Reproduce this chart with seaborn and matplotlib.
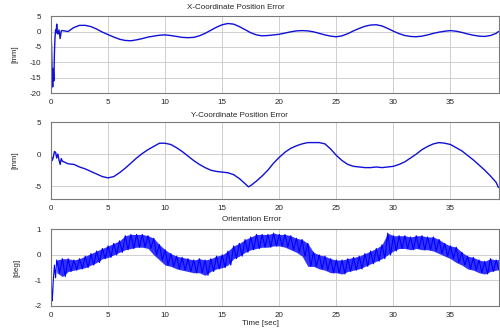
import numpy as np
import pandas as pd
import matplotlib
matplotlib.use("Agg")
import matplotlib.pyplot as plt
import seaborn as sns

# ---- X-coordinate position error [mm] ----
x_time = [0.0, 0.05, 0.1, 0.15, 0.2, 0.25, 0.3, 0.35, 0.4, 0.45, 0.5, 0.55, 0.6, 0.7, 0.8, 0.9, 1.0,
          1.5, 2.0, 2.5, 3.0, 3.5, 4.0, 4.5, 5.0, 5.5, 6.0, 6.5, 7.0, 7.5, 8.0, 8.5, 9.0, 9.5, 10.0,
          10.5, 11.0, 11.5, 12.0, 12.5, 13.0, 13.5, 14.0, 14.5, 15.0, 15.5, 16.0, 16.5, 17.0, 17.5,
          18.0, 18.5, 19.0, 19.5, 20.0, 20.5, 21.0, 21.5, 22.0, 22.5, 23.0, 23.5, 24.0, 24.5, 25.0,
          25.5, 26.0, 26.5, 27.0, 27.5, 28.0, 28.5, 29.0, 29.5, 30.0, 30.5, 31.0, 31.5, 32.0, 32.5,
          33.0, 33.5, 34.0, 34.5, 35.0, 35.5, 36.0, 36.5, 37.0, 37.5, 38.0, 38.5, 39.0, 39.2]
x_err = [0.0, -5.0, -14.0, -18.0, -12.0, -16.0, -7.0, -2.0, 0.5, -0.5, 2.4, 0.0, -0.8, 0.5, -2.3, 0.2, 0.3,
         0.0, 1.3, 2.0, 2.0, 1.6, 0.8, -0.2, -1.0, -1.8, -2.5, -2.9, -3.0, -2.7, -2.3, -1.8, -1.5, -1.2, -1.1,
         -1.3, -1.6, -1.9, -2.0, -1.9, -1.4, -0.6, 0.4, 1.4, 2.2, 2.6, 2.4, 1.6, 0.6, -0.4,
         -1.1, -1.4, -1.3, -1.1, -0.9, -0.5, -0.1, 0.2, 0.3, 0.2, -0.1, -0.6, -1.1, -1.5, -1.7,
         -1.4, -0.7, 0.2, 1.0, 1.7, 2.1, 2.2, 1.8, 1.0, 0.1, -0.7, -1.3, -1.6, -1.7, -1.5,
         -1.1, -0.6, -0.2, 0.1, 0.3, 0.1, -0.3, -0.8, -1.2, -1.5, -1.6, -1.3, -0.6, 0.0]

# ---- Y-coordinate position error [mm] ----
y_time = [0.0, 0.1, 0.2, 0.3, 0.4, 0.5, 0.6, 0.7, 0.8, 0.9, 1.0,
          1.5, 2.0, 2.5, 3.0, 3.5, 4.0, 4.5, 5.0, 5.5, 6.0, 6.5, 7.0, 7.5, 8.0, 8.5, 9.0, 9.5, 10.0,
          10.5, 11.0, 11.5, 12.0, 12.5, 13.0, 13.5, 14.0, 14.5, 15.0, 15.5, 16.0, 16.5, 17.0, 17.3, 17.5,
          18.0, 18.5, 19.0, 19.5, 20.0, 20.5, 21.0, 21.5, 22.0, 22.5, 23.0, 23.5, 24.0, 24.5, 25.0,
          25.5, 26.0, 26.5, 27.0, 27.5, 28.0, 28.5, 29.0, 29.5, 30.0, 30.5, 31.0, 31.5, 32.0, 32.5,
          33.0, 33.5, 34.0, 34.5, 35.0, 35.5, 36.0, 36.5, 37.0, 37.5, 38.0, 38.5, 39.0, 39.2]
y_err = [0.0, -1.0, -0.5, 0.4, 0.3, -0.6, 0.0, -0.9, -1.6, -0.7, -1.1,
         -1.5, -1.6, -2.0, -2.3, -2.7, -3.1, -3.5, -3.7, -3.5, -2.9, -2.2, -1.4, -0.6, 0.1, 0.7, 1.2, 1.7, 1.7,
         1.5, 1.0, 0.4, -0.3, -1.0, -1.6, -2.1, -2.5, -2.7, -2.8, -2.9, -3.2, -3.8, -4.6, -5.1, -4.9,
         -4.2, -3.4, -2.5, -1.4, -0.5, 0.3, 0.9, 1.3, 1.6, 1.8, 1.8, 1.8, 1.6, 0.8, -0.2,
         -1.0, -1.6, -1.9, -2.0, -2.1, -2.1, -2.0, -2.1, -2.0, -1.9, -1.6, -1.2, -0.6, 0.0, 0.7,
         1.2, 1.6, 1.8, 1.7, 1.5, 1.0, 0.5, -0.2, -0.9, -1.7, -2.5, -3.4, -4.4, -5.2]

# ---- Orientation error [deg]: start-up transient, then upper / lower band edges ----
orient_start_t = [0.0, 0.05, 0.1, 0.15, 0.2, 0.3, 0.4]
orient_start_v = [0.0, -1.3, -1.8, -1.5, -1.0, -0.4, -0.9]
orient_hi = [-0.2, -0.15, -0.15, -0.2, -0.15, -0.05, 0.05, 0.15, 0.25, 0.35, 0.45, 0.55, 0.75, 0.8, 0.8,
             0.8, 0.75, 0.65, 0.4, 0.2, 0.05, -0.05, -0.1, -0.15, -0.2, -0.15, -0.2, -0.15, -0.05, 0.0,
             0.15, 0.35, 0.45, 0.6, 0.7, 0.8, 0.8, 0.8, 0.85, 0.8, 0.8, 0.75, 0.65, 0.6, 0.45, 0.1,
             0.0, -0.05, -0.15, -0.2, -0.2, -0.15, -0.1, -0.05, 0.05, 0.15, 0.25, 0.4, 0.85, 0.75, 0.75,
             0.75, 0.7, 0.75, 0.75, 0.7, 0.7, 0.6, 0.45, 0.35, 0.3, 0.1, -0.05, -0.1, -0.2, -0.25,
             -0.15, -0.2, -0.15]
orient_lo = [-0.7, -0.85, -0.65, -0.6, -0.55, -0.5, -0.4, -0.3, -0.15, -0.1, 0.0, 0.1, 0.2, 0.25, 0.3,
             0.3, 0.25, 0.0, -0.2, -0.4, -0.45, -0.55, -0.6, -0.65, -0.7, -0.7, -0.8, -0.65, -0.55, -0.5,
             -0.4, -0.15, -0.05, 0.1, 0.2, 0.25, 0.3, 0.3, 0.35, 0.35, 0.3, 0.2, 0.1, -0.05, -0.45, -0.45,
             -0.55, -0.6, -0.7, -0.7, -0.75, -0.65, -0.6, -0.55, -0.45, -0.35, -0.25, -0.15, 0.0, 0.15, 0.25,
             0.25, 0.2, 0.25, 0.2, 0.2, 0.15, 0.05, -0.05, -0.15, -0.3, -0.4, -0.55, -0.6, -0.7, -0.75,
             -0.65, -0.6, -0.55]

x_ticks = [0, 5, 10, 15, 20, 25, 30, 35]
titles = ["X-Coordinate Position Error", "Y-Coordinate Position Error", "Orientation Error"]
units = ["[mm]", "[mm]", "[deg]"]
xlabel = "Time [sec]"

sns.set_style("white")
plt.rcParams["font.family"] = ["Liberation Sans", "DejaVu Sans"]
plt.rcParams["axes.unicode_minus"] = False

LINE = "#1010d8"
BAND = "#0000ff"
FS = 5.8

fig = plt.figure(figsize=(5.0, 3.29), dpi=100)
boxes = [
    [0.102, 0.717, 0.896, 0.234],
    [0.102, 0.395, 0.896, 0.234],
    [0.102, 0.070, 0.896, 0.233],
]
axes = [fig.add_axes(b) for b in boxes]

# X panel
sns.lineplot(x=x_time, y=x_err, ax=axes[0], color=LINE, lw=1.0, sort=False)
axes[0].set_ylim(-20, 5)
axes[0].set_yticks([5, 0, -5, -10, -15, -20])

# Y panel
sns.lineplot(x=y_time, y=y_err, ax=axes[1], color=LINE, lw=1.0, sort=False)
axes[1].set_ylim(-7, 5)
axes[1].set_yticks([5, 0, -5])

# Orientation panel: band between edges, edges zig-zagged to give the noisy texture
hi_t = np.arange(len(orient_hi)) * 0.5 + 0.5
lo_t = hi_t + 0.25
band_t = np.concatenate([hi_t, lo_t])
order = np.argsort(band_t)
zig_v = np.concatenate([orient_hi, orient_lo])[order]
zig_t = band_t[order]
ax = axes[2]
ax.fill_between(hi_t, orient_lo, orient_hi, color=BAND, alpha=0.8, lw=0)
sns.lineplot(x=list(orient_start_t) + list(zig_t), y=list(orient_start_v) + list(zig_v),
             ax=ax, color=BAND, lw=0.8, sort=False)
ax.set_ylim(-2, 1)
ax.set_yticks([1, 0, -1, -2])

title_x = [0.472, 0.478, 0.502]
title_y = [0.978, 0.650, 0.334]
for a, t, u, tx, ty, b in zip(axes, titles, units, title_x, title_y, boxes):
    a.set_xlim(0, 39.25)
    a.set_xticks(x_ticks)
    a.set_xlabel("")
    a.set_ylabel("")
    a.grid(True, color="#c8c8c8", lw=0.6)
    a.set_axisbelow(True)
    a.tick_params(axis="y", length=0, labelsize=FS, pad=7)
    a.tick_params(axis="x", length=0, labelsize=FS, pad=4)
    for s in a.spines.values():
        s.set_color("#7a7a7a")
        s.set_linewidth(0.8)
    fig.text(tx, ty, t, ha="center", va="center", fontsize=FS)
    fig.text(0.030 if u == "[mm]" else 0.034, b[1] + b[3] / 2, u, rotation=90,
             ha="center", va="center", fontsize=FS)

fig.text(0.52, 0.018, xlabel, ha="center", va="center", fontsize=FS)

fig.savefig("out.png", dpi=100)
